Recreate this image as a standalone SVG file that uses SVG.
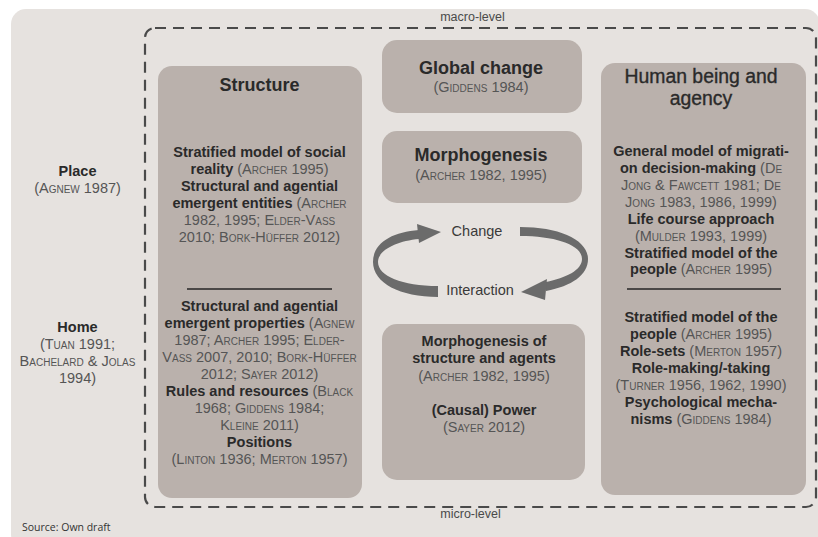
<svg xmlns="http://www.w3.org/2000/svg" width="818" height="537" viewBox="0 0 818 537">
  <style>
    .panel { fill: #e6e2df; }
    .box { fill: #bab1ac; }
    .frame { fill: none; stroke: #4a4a4a; stroke-width: 2.2; stroke-dasharray: 11 7; }
    .rule { stroke: #262626; stroke-width: 1.6; }
    .arrow { fill: #6b6b6b; }
    text { font-family: "Liberation Sans", Arial, sans-serif; text-anchor: middle; }
    .b { font-size: 14.5px; font-weight: bold; fill: #2a2a2a; }
    .c { font-weight: normal; font-variant: small-caps; fill: #555; }
    .cl { font-size: 14.5px; font-variant: small-caps; fill: #555; }
    .h { font-size: 18px; font-weight: bold; fill: #2a2a2a; }
    .h2 { font-size: 19.4px; fill: #2a2a2a; stroke: #2a2a2a; stroke-width: 0.35; }
    .lvl { font-size: 12.5px; fill: #4a4a4a; }
    .cyc { font-size: 14.5px; fill: #3a3a3a; }
    .src { font-family: "Open Sans", "Liberation Sans", sans-serif; font-size: 10.5px; fill: #333; text-anchor: start; }
  </style>

  <rect width="818" height="537" fill="#ffffff"/>
  <rect class="panel" x="11" y="9" width="809" height="540" rx="15"/>

  <!-- macro / micro frame -->
  <g id="frame">
    <rect class="frame" x="145" y="28" width="671" height="479" rx="10"/>
    <text class="lvl" x="472.5" y="21">macro-level</text>
    <text class="lvl" x="470.5" y="518">micro-level</text>
  </g>

  <!-- side labels -->
  <g id="place">
    <text class="b" x="77.5" y="176">Place</text>
    <text class="cl" x="77.5" y="193">(Agnew 1987)</text>
  </g>
  <g id="home">
    <text class="b" x="77.5" y="332">Home</text>
    <text class="cl" x="77.5" y="349">(Tuan 1991;</text>
    <text class="cl" x="77.5" y="366">Bachelard &amp; Jolas</text>
    <text class="cl" x="77.5" y="383">1994)</text>
  </g>

  <!-- Structure -->
  <g id="structure">
    <rect class="box" x="158" y="66" width="204" height="432" rx="14"/>
    <text class="h" x="259.5" y="91">Structure</text>
    <text class="b" x="259.5" y="157">Stratified model of social</text>
    <text class="b" x="259.5" y="174">reality<tspan class="c"> (Archer 1995)</tspan></text>
    <text class="b" x="259.5" y="191">Structural and agential</text>
    <text class="b" x="259.5" y="208">emergent entities<tspan class="c"> (Archer</tspan></text>
    <text class="cl" x="259.5" y="225">1982, 1995; Elder-Vass</text>
    <text class="cl" x="259.5" y="242">2010; Bork-Hüffer 2012)</text>
    <line class="rule" x1="187" y1="289" x2="332" y2="289"/>
    <text class="b" x="259.5" y="311">Structural and agential</text>
    <text class="b" x="259.5" y="328">emergent properties<tspan class="c"> (Agnew</tspan></text>
    <text class="cl" x="259.5" y="345">1987; Archer 1995; Elder-</text>
    <text class="cl" x="259.5" y="362">Vass 2007, 2010; Bork-Hüffer</text>
    <text class="cl" x="259.5" y="379">2012; Sayer 2012)</text>
    <text class="b" x="259.5" y="396">Rules and resources<tspan class="c"> (Black</tspan></text>
    <text class="cl" x="259.5" y="413">1968; Giddens 1984;</text>
    <text class="cl" x="259.5" y="430">Kleine 2011)</text>
    <text class="b" x="259.5" y="447">Positions</text>
    <text class="cl" x="259.5" y="464">(Linton 1936; Merton 1957)</text>
  </g>

  <!-- Global change -->
  <g id="global-change">
    <rect class="box" x="382" y="40" width="200" height="73" rx="15"/>
    <text class="h" x="481" y="74">Global change</text>
    <text class="cl" x="481" y="92">(Giddens 1984)</text>
  </g>

  <!-- Morphogenesis -->
  <g id="morphogenesis">
    <rect class="box" x="382" y="131" width="200" height="72" rx="15"/>
    <text class="h" x="481" y="161">Morphogenesis</text>
    <text class="cl" x="481" y="180">(Archer 1982, 1995)</text>
  </g>

  <!-- Morphogenesis of structure and agents -->
  <g id="morphogenesis-structure-agents">
    <rect class="box" x="382" y="324" width="203" height="156" rx="15"/>
    <text class="b" x="484" y="346">Morphogenesis of</text>
    <text class="b" x="484" y="363">structure and agents</text>
    <text class="cl" x="484" y="381">(Archer 1982, 1995)</text>
    <text class="b" x="484" y="415">(Causal) Power</text>
    <text class="cl" x="484" y="432">(Sayer 2012)</text>
  </g>

  <!-- Human being and agency -->
  <g id="human-agency">
    <rect class="box" x="601" y="63" width="205" height="432" rx="14"/>
    <text class="h2" x="701" y="83">Human being and</text>
    <text class="h2" x="701" y="105">agency</text>
    <text class="b" x="701" y="156">General model of migrati-</text>
    <text class="b" x="701" y="173">on decision-making<tspan class="c"> (De</tspan></text>
    <text class="cl" x="701" y="190">Jong &amp; Fawcett 1981; De</text>
    <text class="cl" x="701" y="207">Jong 1983, 1986, 1999)</text>
    <text class="b" x="701" y="224">Life course approach</text>
    <text class="cl" x="701" y="241">(Mulder 1993, 1999)</text>
    <text class="b" x="701" y="258">Stratified model of the</text>
    <text class="b" x="701" y="274">people<tspan class="c"> (Archer 1995)</tspan></text>
    <line class="rule" x1="627" y1="289" x2="781" y2="289"/>
    <text class="b" x="701" y="322">Stratified model of the</text>
    <text class="b" x="701" y="339">people<tspan class="c"> (Archer 1995)</tspan></text>
    <text class="b" x="701" y="356">Role-sets<tspan class="c"> (Merton 1957)</tspan></text>
    <text class="b" x="701" y="373">Role-making/-taking</text>
    <text class="cl" x="701" y="390">(Turner 1956, 1962, 1990)</text>
    <text class="b" x="701" y="407">Psychological mecha-</text>
    <text class="b" x="701" y="424">nisms<tspan class="c"> (Giddens 1984)</tspan></text>
  </g>

  <!-- change / interaction cycle -->
  <g id="connectors">
    <path class="arrow" d="M 438 297 C 400 297, 373 283, 373 262 C 373 243, 392 232, 419 230 L 419 239 C 397 241, 378 250, 378 262 C 378 276, 402 286, 438 286 Z"/>
    <path class="arrow" d="M 417 224 L 441 232 L 419 243 Z"/>
    <path class="arrow" d="M 520 227 C 560 227, 588 240, 588 259 C 588 275, 572 286, 546 291 L 546 282 C 566 278, 582 270, 582 259 C 582 245, 556 236, 520 236 Z"/>
    <path class="arrow" d="M 547 279 L 521 292 L 545 300 Z"/>
  </g>
  <g id="change">
    <text class="cyc" x="477" y="236">Change</text>
  </g>
  <g id="interaction">
    <text class="cyc" x="480" y="295">Interaction</text>
  </g>

  <text class="src" x="22" y="531">Source: Own draft</text>
</svg>
